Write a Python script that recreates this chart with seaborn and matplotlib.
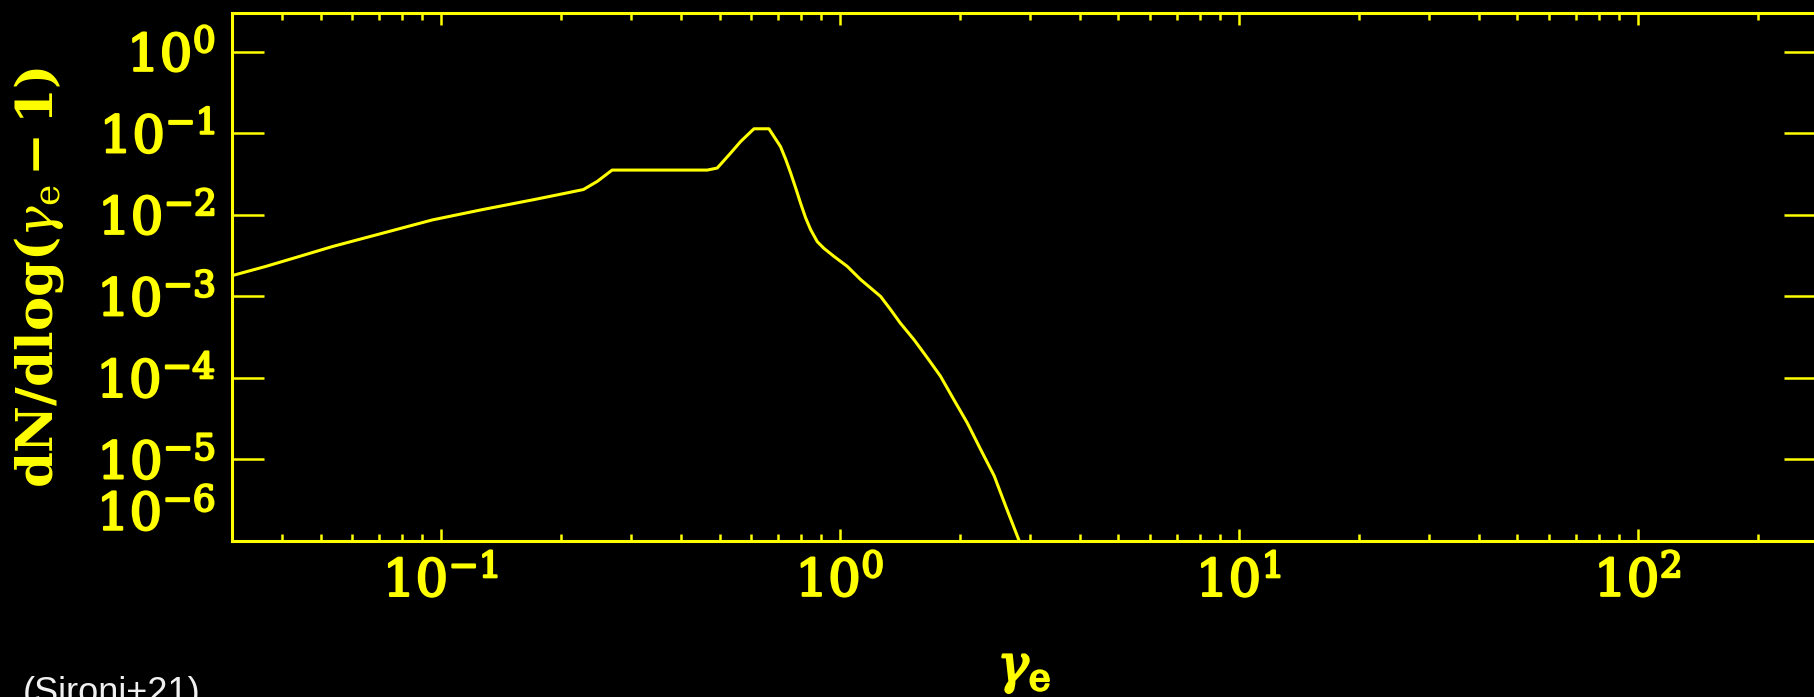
import numpy as np
import pandas as pd
import matplotlib
matplotlib.use("Agg")
import matplotlib.pyplot as plt
import matplotlib.patheffects as pe
import seaborn as sns
from matplotlib.ticker import LogLocator, FixedLocator, FuncFormatter, NullFormatter

# Electron spectrum: Lorentz factor gamma_e vs dN/dlog(gamma_e - 1)
gamma_e = [0.030, 0.0365, 0.0443, 0.0536, 0.0955, 0.127, 0.170, 0.206, 0.228,
           0.247, 0.269, 0.466, 0.4935, 0.533, 0.565, 0.610, 0.665, 0.711,
           0.733, 0.754, 0.776, 0.798, 0.822, 0.846, 0.879, 0.913, 0.968,
           1.045, 1.129, 1.267, 1.342, 1.42, 1.536, 1.66, 1.79, 1.934, 2.09,
           2.256, 2.44, 2.63, 2.82, 2.88]
dn_dlog = [0.00180, 0.00234, 0.0031, 0.0041, 0.0087, 0.0116, 0.0153, 0.0185,
           0.0205, 0.0258, 0.0355, 0.0355, 0.0376, 0.0573, 0.0796, 0.114,
           0.114, 0.069, 0.0478, 0.0326, 0.0214, 0.014, 0.0092, 0.0066,
           0.0047, 0.0039, 0.0031, 0.00234, 0.00161, 0.00100, 0.00069,
           0.00047, 0.000295, 0.000176, 1.05e-4, 5.4e-5, 2.8e-5, 1.33e-5,
           6.3e-6, 2.4e-6, 1.0e-6, 7.5e-7]

x_tick_values = [0.1, 1.0, 10.0, 100.0]
y_tick_values = [1e0, 1e-1, 1e-2, 1e-3, 1e-4, 1e-5, 1e-6]

FG = "#ffff00"
BG = "#000000"

sns.set_theme(style="ticks")
plt.rcParams.update({
    "mathtext.fontset": "dejavuserif",
    "font.family": ["DejaVu Serif"],
    "figure.facecolor": BG,
    "axes.facecolor": BG,
    "savefig.facecolor": BG,
})

W, H = 1815, 697
fig = plt.figure(figsize=(W / 100, H / 100), dpi=100)
# axes box in pixels: left 232, right 1816, top 13, bottom 541
ax = fig.add_axes([232 / W, (H - 541) / H, 1584 / W, (541 - 13) / H])

df = pd.DataFrame({"gamma": gamma_e, "dn": dn_dlog})
sns.lineplot(data=df, x="gamma", y="dn", ax=ax, color=FG, linewidth=2.2,
             estimator=None, sort=True)

ax.set_xscale("log")
ax.set_yscale("log")
ax.set_xlim(0.03, 280)
ax.set_ylim(1e-6, 3.0)

for sp in ax.spines.values():
    sp.set_color(FG)
    sp.set_linewidth(2.2)
    sp.set_visible(True)


def pow_label(v, pos=None):
    e = int(round(np.log10(v)))
    if e < 0:
        return r"$10^{-%d}$" % (-e)
    return r"$10^{%d}$" % e


ax.xaxis.set_major_locator(FixedLocator(x_tick_values))
ax.xaxis.set_minor_locator(LogLocator(base=10, subs=np.arange(2, 10), numticks=20))
ax.xaxis.set_major_formatter(FuncFormatter(pow_label))
ax.xaxis.set_minor_formatter(NullFormatter())
ax.yaxis.set_major_locator(FixedLocator(y_tick_values))
ax.yaxis.set_minor_locator(FixedLocator([]))
ax.yaxis.set_major_formatter(FuncFormatter(pow_label))

ax.tick_params(axis="x", which="major", direction="in", length=8.6, width=1.8,
               color=FG, top=True, bottom=True, labelsize=37, labelcolor=FG, pad=12)
ax.tick_params(axis="x", which="minor", direction="in", length=5, width=1.8,
               color=FG, top=True, bottom=True)
ax.tick_params(axis="y", which="major", direction="in", length=23, width=1.8,
               color=FG, left=True, right=True, labelsize=37, labelcolor=FG, pad=12)

# heavier strokes for the tick labels
heavy = [pe.withStroke(linewidth=1.6, foreground=FG)]
for lbl in ax.get_xticklabels() + ax.get_yticklabels():
    lbl.set_path_effects(heavy)

# the lowest y label sits on the bottom spine; lift it above the corner
for lbl, v in zip(ax.get_yticklabels(), y_tick_values):
    if v == 1e-6:
        lbl.set_verticalalignment("bottom")

ax.set_ylabel(r"$\mathbf{dN/dlog(}\gamma_{\mathrm{e}}\,\mathbf{-\,1)}$", color=FG, fontsize=37)
ax.yaxis.set_label_coords(-0.105, 0.5)
ax.set_xlabel(r"$\gamma_{\mathrm{e}}$", color=FG, fontsize=38)
ax.xaxis.set_label_coords(0.5, -0.195)
ax.xaxis.label.set_path_effects(heavy)

fig.text(23 / W, -6 / H, "(Sironi+21)", color="#f0f0f0", fontsize=26,
         family=["Liberation Sans", "DejaVu Sans"], ha="left", va="baseline")

fig.savefig("out.png", dpi=100, facecolor=BG)
